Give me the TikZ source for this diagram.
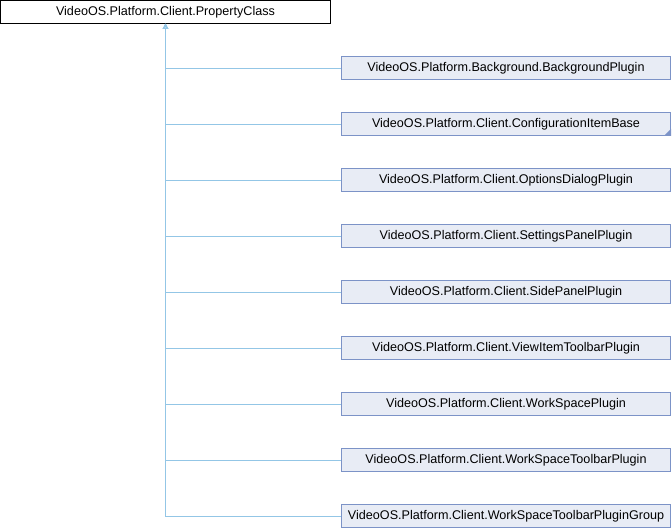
\documentclass[tikz,border=0pt]{standalone}
\usepackage{fontspec}
\setmainfont{Liberation Sans}
\usetikzlibrary{arrows.meta}
\definecolor{boxfill}{HTML}{E8ECF5}
\definecolor{boxdraw}{HTML}{7C93C7}
\definecolor{edgecol}{HTML}{93C6E6}
\tikzset{
  cls/.style={draw=boxdraw, fill=boxfill, line width=1pt, minimum width=329pt, minimum height=22.5pt, inner sep=0pt, font=\fontsize{12.6}{14}\selectfont, anchor=center},
  rootcls/.style={draw=black, fill=white, line width=1pt, minimum width=330pt, minimum height=22.5pt, inner sep=0pt, font=\fontsize{12.6}{14}\selectfont},
  inh/.style={draw=edgecol, line width=1pt, {Triangle[open, length=5pt, width=5pt]}-}
}
\begin{document}
\begin{tikzpicture}[x=1pt,y=-1pt]
\useasboundingbox (0,0) rectangle (672,528);
\node[rootcls] (root) at (165.5,12) {VideoOS.Platform.Client.PropertyClass};
\node[cls] (c1) at (506,68) {VideoOS.Platform.Background.BackgroundPlugin};
\node[cls] (c2) at (506,124) {VideoOS.Platform.Client.ConfigurationItemBase};
\node[cls] (c3) at (506,180) {VideoOS.Platform.Client.OptionsDialogPlugin};
\node[cls] (c4) at (506,236) {VideoOS.Platform.Client.SettingsPanelPlugin};
\node[cls] (c5) at (506,292) {VideoOS.Platform.Client.SidePanelPlugin};
\node[cls] (c6) at (506,348) {VideoOS.Platform.Client.ViewItemToolbarPlugin};
\node[cls] (c7) at (506,404) {VideoOS.Platform.Client.WorkSpacePlugin};
\node[cls] (c8) at (506,460) {VideoOS.Platform.Client.WorkSpaceToolbarPlugin};
\node[cls] (c9) at (506,516) {VideoOS.Platform.Client.WorkSpaceToolbarPluginGroup};
\fill[boxdraw] (c2.south east) -- ([xshift=-7pt]c2.south east) -- ([yshift=7pt]c2.south east) -- cycle;
\foreach \c in {c1,c2,c3,c4,c5,c6,c7,c8,c9}{
  \draw[inh] (root.south) |- (\c.west);
}
\end{tikzpicture}
\end{document}
